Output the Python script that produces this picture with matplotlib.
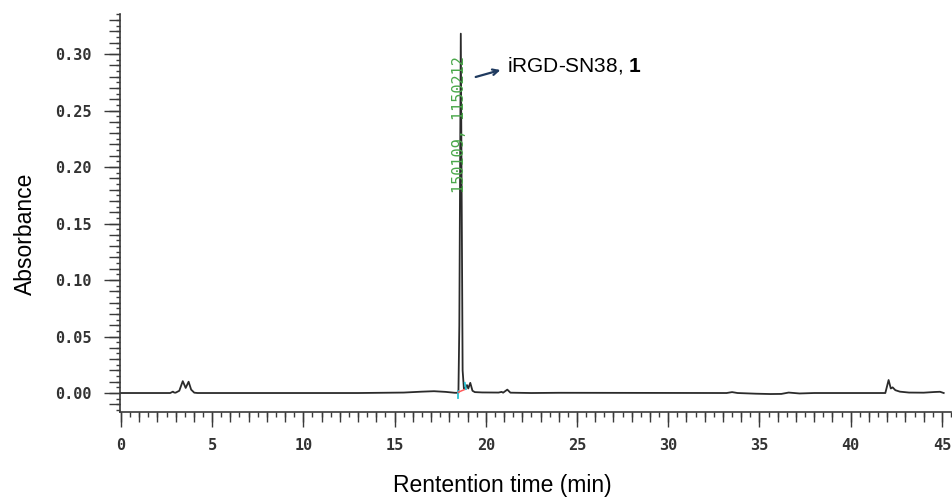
import matplotlib
matplotlib.use("Agg")
import matplotlib.pyplot as plt
from matplotlib.ticker import MultipleLocator, FormatStrFormatter

plt.rcParams['mathtext.fontset'] = 'custom'
plt.rcParams['mathtext.rm'] = 'Liberation Sans'
plt.rcParams['mathtext.bf'] = 'Liberation Sans:bold'

# chromatogram trace (min, absorbance)
time = [0.0, 2.7, 2.85, 2.92, 3.0, 3.2, 3.39, 3.55, 3.71, 3.85, 4.02, 4.2,
        13.0, 15.5, 16.5, 17.16, 17.8, 18.3, 18.5, 18.55, 18.63, 18.73, 18.8,
        18.88, 18.97, 19.04, 19.15, 19.27, 19.4, 19.8, 20.7, 20.87, 20.95, 21.18,
        21.35, 22.5, 24.0, 33.2, 33.5, 33.8, 34.8, 35.6, 36.2, 36.6, 37.2, 38.0,
        41.9, 42.08, 42.2, 42.3, 42.45, 42.7, 43.2, 44.0, 44.6, 44.9, 45.1]
absorb = [0.0, 0.0, 0.0012, 0.0004, 0.0003, 0.002, 0.0105, 0.0045, 0.010, 0.003, 0.0003, 0.0,
          0.0, 0.0004, 0.0012, 0.0016, 0.001, 0.0002, 0.0002, 0.06, 0.318, 0.02, 0.004,
          0.0045, 0.007, 0.004, 0.009, 0.002, 0.0008, 0.0005, 0.0004, 0.001, 0.0003, 0.003,
          0.0003, 0.0, 0.0002, 0.0, 0.0008, 0.0, -0.0006, -0.0009, -0.0008, 0.0004, -0.0004, 0.0,
          0.0, 0.0115, 0.004, 0.005, 0.0025, 0.0012, 0.0004, 0.0003, 0.0009, 0.0011, 0.0]

# integration markers near the main peak
cyan_start_t = [18.5, 18.5]
cyan_start_y = [-0.0045, 0.002]
red_base_t = [18.5, 18.9]
red_base_y = [0.0008, 0.0035]
cyan_end_t = [18.85, 18.91]
cyan_end_y = [0.009, 0.0035]

peak_label = "150109, 1150212"
peak_label_pos = (18.58, 0.238)
compound = r"iRGD-SN38, $\mathbf{1}$"
arrow_tail = (19.3, 0.279)
arrow_head = (20.95, 0.2865)

xlim = (-0.05, 45.5)
ylim = (-0.0168, 0.3354)

fig = plt.figure(figsize=(9.53, 4.97), dpi=100)
rect = [120/953, 85/497, 831/953, 398/497]
ax = fig.add_axes(rect)

ax.plot(time, absorb, color='#2b2b2b', lw=1.3)
ax.plot(cyan_start_t, cyan_start_y, color='#27c3d3', lw=1.3)
ax.plot(red_base_t, red_base_y, color='#ff5a5a', lw=1.1)
ax.plot(cyan_end_t, cyan_end_y, color='#27c3d3', lw=1.3)

ax.text(peak_label_pos[0], peak_label_pos[1], peak_label, rotation=90,
        ha='center', va='center', family='DejaVu Sans Mono', fontsize=11,
        color='#4aa84a')
ax.annotate('', xy=arrow_head, xytext=arrow_tail,
            arrowprops=dict(arrowstyle='->', color='#1f3a5f', lw=1.6))
ax.text(21.15, 0.2895, compound, fontsize=15, family='Liberation Sans',
        va='center', ha='left', color='black')

ax.set_xlim(*xlim)
ax.set_ylim(*ylim)
for s in ['top', 'right']:
    ax.spines[s].set_visible(False)
for s in ['left', 'bottom']:
    ax.spines[s].set_color('#3a3a3a')
    ax.spines[s].set_linewidth(1.2)

ax.xaxis.set_major_locator(MultipleLocator(5))
ax.xaxis.set_minor_locator(MultipleLocator(0.5))
ax.yaxis.set_major_locator(MultipleLocator(0.05))
ax.yaxis.set_minor_locator(MultipleLocator(0.005))
ax.xaxis.set_major_formatter(FormatStrFormatter('%d'))
ax.yaxis.set_major_formatter(FormatStrFormatter('%.2f'))
ax.tick_params(axis='y', which='major', length=11.5, width=1.0, color='#3a3a3a', pad=9)
ax.tick_params(axis='y', which='minor', length=3.0, width=1.0, color='#3a3a3a')
ax.tick_params(axis='x', which='major', length=10.8, width=1.0, color='#3a3a3a', pad=8)
ax.tick_params(axis='x', which='minor', length=3.6, width=1.0, color='#3a3a3a')
for lab in ax.get_xticklabels() + ax.get_yticklabels():
    lab.set_family('DejaVu Sans Mono')
    lab.set_fontweight('bold')
    lab.set_fontsize(11)
    lab.set_color('#333333')

# medium ticks at every minute / every 0.01
ax2 = fig.add_axes(rect)
ax2.patch.set_visible(False)
for s in ax2.spines.values():
    s.set_visible(False)
ax2.set_xlim(*xlim)
ax2.set_ylim(*ylim)
ax2.xaxis.set_major_locator(MultipleLocator(1))
ax2.yaxis.set_major_locator(MultipleLocator(0.01))
ax2.tick_params(axis='both', which='major', width=1.0, color='#3a3a3a',
                labelbottom=False, labelleft=False)
ax2.tick_params(axis='y', length=7.9)
ax2.tick_params(axis='x', length=7.2)

ax.set_xlabel("Rentention time (min)", family='Liberation Sans', fontsize=16.5)
ax.xaxis.set_label_coords(0.46, -0.155)
ax.set_ylabel("Absorbance", family='Liberation Sans', fontsize=16.5)
ax.yaxis.set_label_coords(-0.1, 0.447)

fig.savefig("out.png", dpi=100)
